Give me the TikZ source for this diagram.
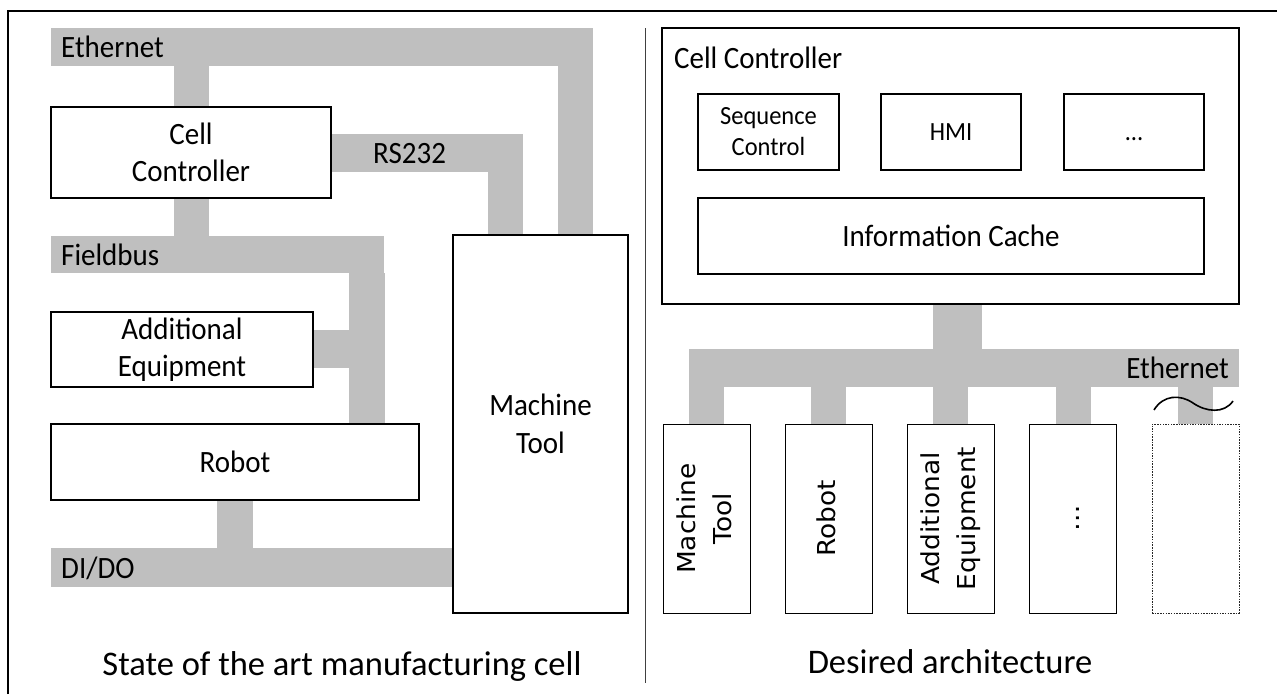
\documentclass[tikz,border=0pt]{standalone}
\usepackage{fontspec}
\setmainfont{Carlito}
\newfontfamily\dejavu{DejaVu Sans}
\usepackage{graphicx}
\usetikzlibrary{calc,backgrounds}
\definecolor{busgray}{RGB}{191,191,191}
\tikzset{
  bus/.style={fill=busgray, draw=none},
  boxL/.style={draw=black, line width=1.4pt, fill=white, inner sep=0pt, align=center, font=\fontsize{29}{37.5}\selectfont},
  boxS/.style={draw=black, line width=1.1pt, fill=white, inner sep=0pt, align=center, font=\fontsize{24.5}{31}\selectfont},
  boxT/.style={draw=black, line width=1pt, fill=white, inner sep=0pt, minimum width=87pt, minimum height=189pt},
  lbl/.style={inner sep=0pt, font=\fontsize{29}{35}\selectfont},
  ttl/.style={inner sep=0pt, font=\fontsize{34.5}{40}\selectfont},
}
\newcommand\vs[1]{\scalebox{1}[1.07]{#1}}
\newcommand\rtext[1]{\vs{\rotatebox{90}{\dejavu\fontsize{24.7}{36}\selectfont\begin{tabular}{@{}c@{}}#1\end{tabular}}}}
\begin{document}
\begin{tikzpicture}[x=1pt,y=-1pt]
\useasboundingbox (0,0) rectangle (1277,694);
% frame and divider
\draw[line width=2pt] (8,694) -- (8,11) -- (1277,11);
\draw[line width=1pt, black!75] (645,28) -- (645,683);

% ---------- left: state of the art ----------
\node[boxL, minimum width=280pt, minimum height=91pt] (lcc) at (191,152.5) {\vs{Cell}\\\vs{Controller}};
\node[boxL, minimum width=262pt, minimum height=75pt] (lae) at (182,349.5) {\vs{Additional}\\\vs{Equipment}};
\node[boxL, minimum width=368pt, minimum height=76pt] (lrob) at (235,462) {\vs{Robot}};
\node[boxL, minimum width=175pt, minimum height=378pt] (lmt) at (540.5,424) {\vs{Machine}\\\vs{Tool}};

\begin{scope}[on background layer]
  % Ethernet
  \fill[bus] (51,28) rectangle (593,66);
  \fill[bus] (558,66) rectangle ($(lmt.north)+(52.5,0)$);
  \fill[bus] (174,66) rectangle ($(lcc.north)+(18,0)$);
  % RS232
  \fill[bus] ($(lcc.east)+(-2,-18.5)$) rectangle (523,172);
  \fill[bus] (488,172) rectangle ($(lmt.north)+(-17.5,0)$);
  % Fieldbus
  \fill[bus] ($(lcc.south)+(-17,0)$) rectangle (209,237);
  \fill[bus] (51,236) rectangle (384,273);
  \fill[bus] (349,273) rectangle ($(lrob.north east)+(-35,1)$);
  \fill[bus] ($(lae.east)+(-2,-19.5)$) rectangle (349,368);
  % DI/DO
  \fill[bus] ($(lrob.south west)+(167,-1)$) rectangle (253,549);
  \fill[bus] (51,548) rectangle ($(lmt.west)+(1,163)$);
\end{scope}

\node[lbl, anchor=base west] (leth) at (61,57) {\vs{Ethernet}};
\node[lbl, anchor=base west] (lrs) at (373,163) {\vs{RS232}};
\node[lbl, anchor=base west] (lfb) at (61,265) {\vs{Fieldbus}};
\node[lbl, anchor=base west] (ldio) at (61,578) {\vs{DI/DO}};
\node[ttl, anchor=base] (t1) at (342,675) {State of the art manufacturing cell};

% ---------- right: desired architecture ----------
\node[boxL, minimum width=577pt, minimum height=276pt] (rcc) at (950.5,166) {};
\node[lbl, anchor=base west] (rcclbl) at (674,68) {\vs{Cell Controller}};
\node[boxS, minimum width=141pt, minimum height=76pt] (seq) at (768.5,132) {\vs{Sequence}\\\vs{Control}};
\node[boxS, minimum width=140pt, minimum height=76pt] (hmi) at (951,132) {\vs{HMI}};
\node[boxS, minimum width=140pt, minimum height=76pt] (etc) at (1134,132) {\vs{\vphantom{HMI}…}};
\node[boxL, minimum width=506pt, minimum height=76pt] (ic) at (951,236) {\vs{Information Cache}};

\node[bus, inner sep=0pt, minimum width=550pt, minimum height=38pt] (ebus) at (964,368) {};
\node[lbl, anchor=base east] (reth) at (1229,378) {\vs{Ethernet}};

\node[boxT] (rmt) at (706.5,518.5) {\rtext{Machine\\Tool}};
\node[boxT] (rrob) at (828.5,518.5) {\rtext{Robot}};
\node[boxT] (rae) at (950.5,518.5) {\rtext{Additional\\Equipment}};
\node[boxT] (retc) at (1073,518.5) {\vs{\rotatebox{90}{\dejavu\fontsize{24.7}{36}\selectfont\vphantom{Ag}…}}};
\node[boxT, draw=black!85, line width=0.9pt, dash pattern=on 1.5pt off 1.2pt] (rnew) at (1195.5,518.5) {};

\begin{scope}[on background layer]
  \fill[bus] ($(rcc.south)+(-17.5,-1)$) rectangle ($(ebus.north)+(17.5,1)$);
  \foreach \b in {rmt,rrob,rae,retc,rnew}
    \fill[bus] ($(\b.north)+(-17.5,0)$) rectangle ($(\b.north)+(17.5,-38)$);
\end{scope}

\draw[line width=1.6pt] (1154,410) .. controls (1163,395) and (1180,394) .. (1193,403)
  .. controls (1206,412) and (1224,414) .. (1233,401);

\node[ttl, anchor=base] (t2) at (950,673) {Desired architecture};
\end{tikzpicture}
\end{document}
